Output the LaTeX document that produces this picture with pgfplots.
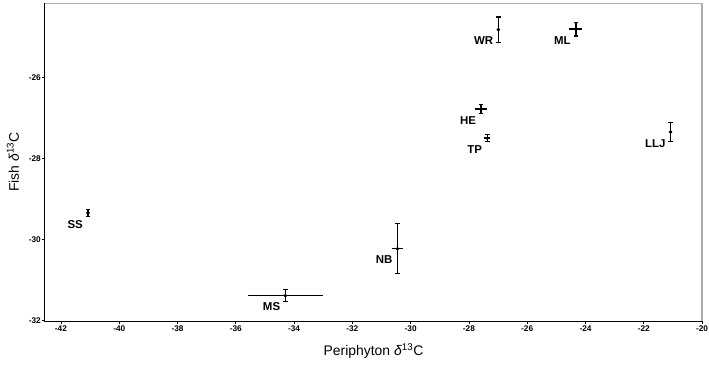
\documentclass[border=0pt]{standalone}
\usepackage{fontspec}
\setmainfont{Liberation Sans}
\usepackage{pgfplots}
\usepackage{pgfplotstable}
\pgfplotsset{compat=1.18}

% Site means of periphyton and fish delta13C with standard errors
\pgfplotstableread{
x       y       ex    ey    site
-41.07  -29.35  0.03  0.09  SS
-34.30  -31.39  1.28  0.15  MS
-30.45  -30.23  0.20  0.62  NB
-27.58  -26.78  0.20  0.11  HE
-27.37  -27.50  0.11  0.09  TP
-26.99  -24.82  0.02  0.31  WR
-24.33  -24.81  0.22  0.17  ML
-21.08  -27.35  0.02  0.23  LLJ
}\sites

\pgfplotsset{
  every error bar/.append style={line width=1.5bp, black},
}

\begin{document}
\begin{tikzpicture}
\begin{axis}[
  at={(0bp,0bp)}, anchor=south west,
  scale only axis, width=658.3bp, height=318.4bp,
  xmin=-42.55, xmax=-20, ymin=-32.02, ymax=-24.17,
  xtick={-42,-40,...,-20}, ytick={-32,-30,-28,-26},
  axis line style={draw=none},
  clip=false,
  tick align=outside, tick pos=left,
  major tick length=3bp,
  tick style={black, line width=0.8bp},
  /pgf/number format/assume math mode=true,
  ticklabel style={font=\bfseries\fontsize{8.3}{9}\selectfont},
  xticklabel style={inner sep=1bp},
  yticklabel style={inner sep=1bp},
  every axis x label/.style={at={(rel axis cs:0.5,0)}, anchor=center, yshift=-30bp,
    font=\fontsize{14}{16}\selectfont},
  every axis y label/.style={at={(rel axis cs:0,0.5)}, anchor=center, rotate=90, yshift=32bp,
    font=\fontsize{14}{16}\selectfont},
  xlabel={Periphyton \textit{δ}\textsuperscript{13}C},
  ylabel={Fish \textit{δ}\textsuperscript{13}C},
]
% horizontal (periphyton) error bars, no end caps
\addplot[
  black, mark=none, draw=none,
  error bars/.cd,
    x dir=both, x explicit,
    error bar style={line width=1.5bp, black, draw=black},
    error mark=none,
] table[x=x, y=y, x error=ex] {\sites};

% vertical (fish) error bars with caps
\addplot[
  black, mark=none, draw=none,
  error bars/.cd,
    y dir=both, y explicit,
    error bar style={line width=1.5bp, black, draw=black},
    error mark=|,
    error mark options={mark size=2.3bp, line width=1.3bp, black},
] table[x=x, y=y, y error=ey] {\sites};

% site means
\addplot[only marks, mark=*, mark size=1.6bp, black, mark options={fill=black}]
  table[x=x, y=y] {\sites};

\addplot[
  only marks, mark=none,
  point meta=explicit symbolic,
  nodes near coords,
  nodes near coords align={anchor=north east},
  every node near coord/.append style={font=\bfseries\fontsize{11.5}{12}\selectfont,
    inner sep=0pt, xshift=-5bp, yshift=-7bp},
] table[x=x, y=y, meta=site] {\sites};

% panel border: light top and right, dark left and bottom
\draw[gray!65, line width=1.1bp] (rel axis cs:0,1) -- (rel axis cs:1,1) -- (rel axis cs:1,0);
\draw[black, line width=1.1bp] (rel axis cs:0,1) -- (rel axis cs:0,0) -- (rel axis cs:1,0);
\end{axis}
\path[use as bounding box] (-45bp,-44.3bp) rectangle (664bp,321.7bp);
\end{tikzpicture}
\end{document}
